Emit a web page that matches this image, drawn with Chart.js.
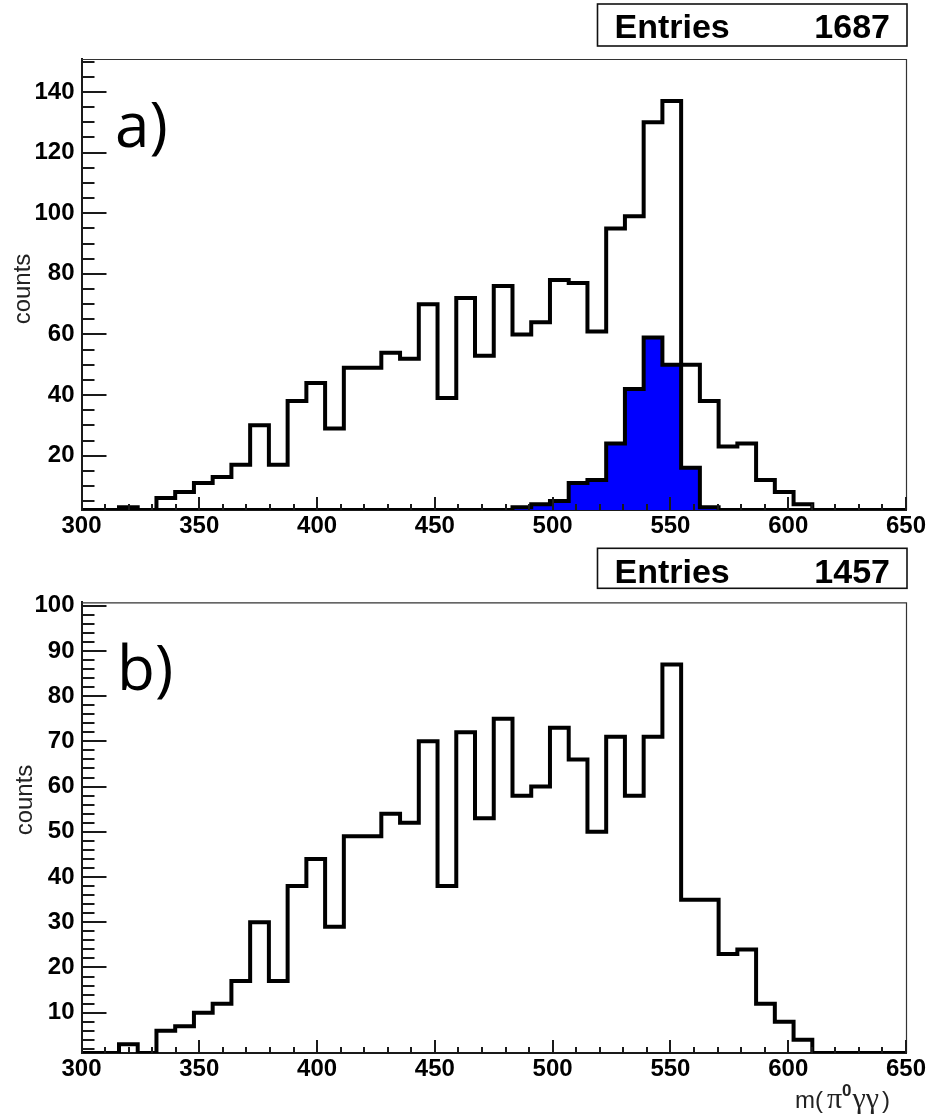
<!DOCTYPE html>
<html>
<head>
<meta charset="utf-8">
<script src="https://cdn.jsdelivr.net/npm/chart.js@4.4.1/dist/chart.umd.min.js"></script>
<style>
  html, body { margin: 0; padding: 0; background: #fff; }
  #wrap { position: relative; width: 930px; height: 1119px; }
  canvas { position: absolute; left: 0; }
  #panelA { top: 0; }
  #panelB { top: 540px; }
</style>
</head>
<body>
<div id="wrap">
  <canvas id="panelA" width="930" height="540"></canvas>
  <canvas id="panelB" width="930" height="579"></canvas>
</div>
<script>
// Binning of m(pi0 gamma gamma)
const X_MIN = 300, X_MAX = 650, N_BINS = 44;

// a) all selected events
const countsA = [0,0,3,0,6,8,11,13,17,30, 17,38,44,29,49,49,54,52,70,39,
                 72,53,76,60,64,78,77,61,95,99, 130,137,50,38,23,24,12,8,4,0,
                 0,0,0,0];
// a) signal component, drawn filled
const countsSignal = [0,0,0,0,0,0,0,0,0,0, 0,0,0,0,0,0,0,0,0,0,
                      0,0,1,3,4,5,11,12,24,42, 59,50,16,3,0,0,0,0,0,0,
                      0,0,0,0];
// b) remaining events
const countsB = [0,0,3,0,6,7,10,12,17,30, 17,38,44,29,49,49,54,52,70,38,
                 72,53,75,58,60,73,66,50,71,58, 71,87,35,35,23,24,12,8,4,0,
                 0,0,0,0];

const entriesA = 1687;
const entriesB = 1457;

const xTickLabels  = [300, 350, 400, 450, 500, 550, 600, 650];
const yTickLabelsA = [20, 40, 60, 80, 100, 120, 140];
const yTickLabelsB = [10, 20, 30, 40, 50, 60, 70, 80, 90, 100];

// axis ranges
const Y_RANGE_A = [2.07, 150.9];
const Y_RANGE_B = [1.09, 100.75];

const X_MINOR_STEP = 10, X_MAJOR_STEP = 50;

Chart.defaults.font.family = '"Liberation Sans", Arial, sans-serif';
const TICK_FONT = { family: '"Liberation Sans", Arial, sans-serif', size: 24, weight: 'bold' };

const AREA_LEFT = 81.5, AREA_RIGHT = 906;
const BIN_W = (X_MAX - X_MIN) / N_BINS;

// Outline of a histogram: one flat segment per bin, joined by vertical edges.
function histPoints(values, floor) {
  const pts = [];
  values.forEach((v, i) => {
    const lo = X_MIN + i * BIN_W, hi = lo + BIN_W;
    const y = Math.max(v, floor);
    pts.push({ x: lo, y }, { x: hi, y });
  });
  return pts;
}

const panelDecor = {
  id: 'panelDecor',
  afterDatasetsDraw(chart, args, o) {
    const { ctx, chartArea: a, scales: { x, y } } = chart;
    ctx.save();
    // thin frame on top and right
    ctx.strokeStyle = '#333';
    ctx.lineWidth = 1.2;
    ctx.beginPath();
    ctx.moveTo(a.left, a.top + 0.5);
    ctx.lineTo(a.right + 0.5, a.top + 0.5);
    ctx.lineTo(a.right + 0.5, a.bottom);
    ctx.stroke();
    // tick marks pointing into the frame
    ctx.strokeStyle = '#1a1a1a';
    ctx.lineWidth = 2;
    ctx.beginPath();
    for (let v = X_MIN; v <= X_MAX + 1e-6; v += X_MINOR_STEP) {
      const px = Math.round(x.getPixelForValue(v));
      const major = Math.abs((v - X_MIN) % X_MAJOR_STEP) < 1e-6;
      ctx.moveTo(px, a.bottom);
      ctx.lineTo(px, a.bottom - (major ? 13 : 6));
    }
    const first = Math.ceil(y.min / o.yMinor) * o.yMinor;
    for (let v = first; v <= y.max + 1e-6; v += o.yMinor) {
      const py = Math.round(y.getPixelForValue(v));
      const major = Math.abs(v % o.yMajor) < 1e-6;
      ctx.moveTo(a.left, py);
      ctx.lineTo(a.left + (major ? 25 : 13), py);
    }
    ctx.stroke();
    ctx.restore();
  },
  afterDraw(chart, args, o) {
    const ctx = chart.ctx;
    ctx.save();
    // statistics box
    const b = o.box;
    ctx.fillStyle = '#fff';
    ctx.fillRect(b.x, b.y, b.w, b.h);
    ctx.strokeStyle = '#111';
    ctx.lineWidth = 1.6;
    ctx.strokeRect(b.x, b.y, b.w, b.h);
    ctx.fillStyle = '#000';
    ctx.font = 'bold 34px "Liberation Sans", Arial, sans-serif';
    ctx.textBaseline = 'alphabetic';
    ctx.textAlign = 'left';
    ctx.fillText('Entries', b.x + 17, b.textY);
    ctx.textAlign = 'right';
    ctx.fillText(String(o.entries), b.x + b.w - 17, b.textY);

    // panel tag
    ctx.textAlign = 'left';
    ctx.font = '62px "Open Sans", "DejaVu Sans", sans-serif';
    ctx.fillText(o.tag, o.tagX, o.tagY);

    // y-axis title
    ctx.save();
    ctx.translate(o.yTitleX, o.yTitleY);
    ctx.rotate(-Math.PI / 2);
    ctx.font = '24px "Liberation Sans", Arial, sans-serif';
    ctx.fillStyle = '#222';
    ctx.textAlign = 'center';
    ctx.textBaseline = 'middle';
    ctx.fillText('counts', 0, 0);
    ctx.restore();

    // x-axis title m(π⁰γγ)
    if (o.xTitle) {
      const runs = [
        { t: 'm(', f: '24px "Liberation Sans", Arial, sans-serif', dy: 0, gap: 4 },
        { t: '\u03C0', f: '30px "Liberation Serif", serif', dy: 0, gap: 0 },
        { t: '0', f: 'bold 17px "Liberation Sans", Arial, sans-serif', dy: -12, gap: 1 },
        { t: '\u03B3\u03B3', f: '30px "Liberation Serif", serif', dy: 0, gap: 3 },
        { t: ')', f: '24px "Liberation Sans", Arial, sans-serif', dy: 0, gap: 0 }
      ];
      let total = 0;
      runs.forEach(r => { ctx.font = r.f; r.w = ctx.measureText(r.t).width; total += r.w + r.gap; });
      let cx = o.xTitle.right - total;
      ctx.fillStyle = '#222';
      ctx.textAlign = 'left';
      ctx.textBaseline = 'alphabetic';
      runs.forEach(r => {
        ctx.font = r.f;
        ctx.fillText(r.t, cx, o.xTitle.baseline + r.dy);
        cx += r.w + r.gap;
      });
    }
    ctx.restore();
  }
};

function makePanel(canvasId, cfg) {
  const datasets = cfg.series.map(s => ({
    data: histPoints(s.values, cfg.yRange[0]),
    borderColor: '#000',
    borderWidth: 4,
    backgroundColor: s.fill || 'rgba(0,0,0,0)',
    fill: s.fill ? 'start' : false,
    stepped: true,
    tension: 0,
    pointRadius: 0,
    pointHitRadius: 0,
    borderJoinStyle: 'miter',
    borderCapStyle: 'butt'
  }));
  const canvas = document.getElementById(canvasId);
  return new Chart(canvas, {
    type: 'line',
    data: { datasets },
    options: {
      responsive: false,
      animation: false,
      events: [],
      layout: { padding: { left: 0, top: cfg.areaTop, right: 930 - AREA_RIGHT, bottom: 0 } },
      plugins: {
        legend: { display: false },
        tooltip: { enabled: false },
        panelDecor: cfg.decor
      },
      scales: {
        x: {
          type: 'linear',
          min: X_MIN,
          max: X_MAX,
          afterFit: s => { s.height = canvas.height - cfg.areaBottom; },
          afterBuildTicks: s => { s.ticks = xTickLabels.map(v => ({ value: v })); },
          grid: { display: false, drawTicks: false },
          border: { display: true, color: '#1a1a1a', width: 2 },
          ticks: { font: TICK_FONT, color: '#000', padding: 2, maxRotation: 0, autoSkip: false }
        },
        y: {
          type: 'linear',
          min: cfg.yRange[0],
          max: cfg.yRange[1],
          afterFit: s => { s.width = AREA_LEFT; },
          afterBuildTicks: s => { s.ticks = cfg.yTicks.map(v => ({ value: v })); },
          grid: { display: false, drawTicks: false },
          border: { display: true, color: '#1a1a1a', width: 2 },
          ticks: { font: TICK_FONT, color: '#000', padding: 7, autoSkip: false }
        }
      }
    },
    plugins: [panelDecor]
  });
}

makePanel('panelA', {
  series: [
    { values: countsSignal, fill: '#0000ff' },
    { values: countsA }
  ],
  yRange: Y_RANGE_A,
  yTicks: yTickLabelsA,
  areaTop: 59,
  areaBottom: 510,
  decor: {
    yMinor: 5, yMajor: 20,
    entries: entriesA,
    box: { x: 597.5, y: 4, w: 309.5, h: 42, textY: 37.5 },
    tag: 'a)', tagX: 115, tagY: 147,
    yTitleX: 23, yTitleY: 289
  }
});

makePanel('panelB', {
  series: [
    { values: countsB }
  ],
  yRange: Y_RANGE_B,
  yTicks: yTickLabelsB,
  areaTop: 62.3,
  areaBottom: 513,
  decor: {
    yMinor: 2, yMajor: 10,
    entries: entriesB,
    box: { x: 597.5, y: 8.3, w: 309.5, h: 40, textY: 43 },
    tag: 'b)', tagX: 117, tagY: 150,
    yTitleX: 25, yTitleY: 260,
    xTitle: { right: 890, baseline: 568 }
  }
});
</script>
</body>
</html>
